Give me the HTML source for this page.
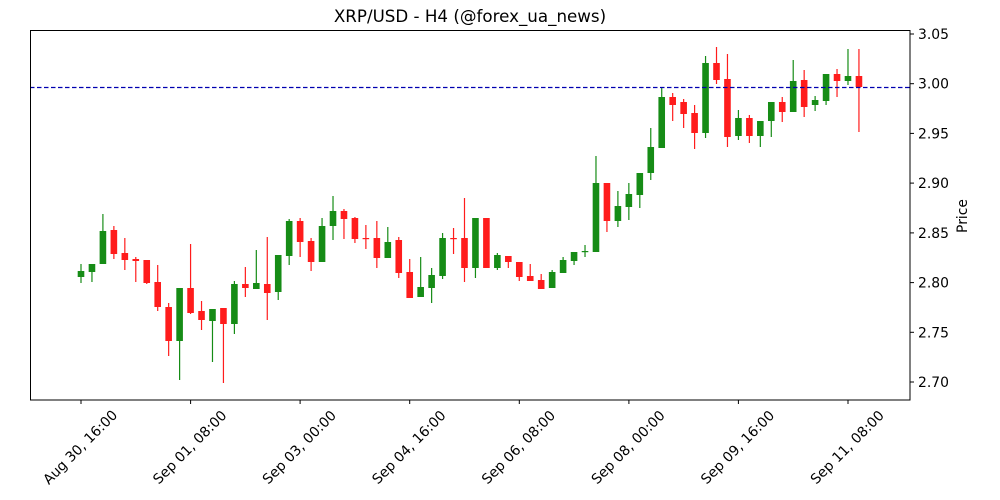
<!DOCTYPE html>
<html><head><meta charset="utf-8"><style>
html,body{margin:0;padding:0;background:#fff;}
svg{display:block;font-family:"DejaVu Sans","Liberation Sans",sans-serif;}
</style></head><body>
<svg id="s" width="1000" height="500" viewBox="0 0 1000 500" xmlns="http://www.w3.org/2000/svg">
<rect width="1000" height="500" fill="#fff"/>
<text x="470" y="22" font-size="16.7" text-anchor="middle" fill="#000">XRP/USD - H4 (@forex_ua_news)</text>
<g id="c"></g>
<line x1="30" y1="87.5" x2="910" y2="87.5" stroke="#0000b0" stroke-width="1.2" stroke-dasharray="4.5,2.5"/>
<rect x="30.5" y="30.5" width="879.5" height="369.5" fill="none" stroke="#000" stroke-width="1"/>
<g font-size="13.9" fill="#000" stroke="none">
<g stroke="#000"><line x1="910" y1="34" x2="914" y2="34"/><line x1="910" y1="83.7" x2="914" y2="83.7"/><line x1="910" y1="133.4" x2="914" y2="133.4"/><line x1="910" y1="183.1" x2="914" y2="183.1"/><line x1="910" y1="232.9" x2="914" y2="232.9"/><line x1="910" y1="282.6" x2="914" y2="282.6"/><line x1="910" y1="332.3" x2="914" y2="332.3"/><line x1="910" y1="382" x2="914" y2="382"/></g>
<text x="918" y="39">3.05</text><text x="918" y="88.7">3.00</text><text x="918" y="138.4">2.95</text><text x="918" y="188.1">2.90</text><text x="918" y="237.9">2.85</text><text x="918" y="287.6">2.80</text><text x="918" y="337.3">2.75</text><text x="918" y="387">2.70</text>
<text transform="translate(967,216) rotate(-90)" text-anchor="middle">Price</text>
<g stroke="#000"><line x1="81" y1="400" x2="81" y2="404"/><line x1="190.6" y1="400" x2="190.6" y2="404"/><line x1="300.1" y1="400" x2="300.1" y2="404"/><line x1="409.7" y1="400" x2="409.7" y2="404"/><line x1="519.3" y1="400" x2="519.3" y2="404"/><line x1="628.9" y1="400" x2="628.9" y2="404"/><line x1="738.4" y1="400" x2="738.4" y2="404"/><line x1="848" y1="400" x2="848" y2="404"/></g>
<text transform="translate(80,447) rotate(-45)" text-anchor="middle" dy="5">Aug 30, 16:00</text>
<text transform="translate(189.6,447) rotate(-45)" text-anchor="middle" dy="5">Sep 01, 08:00</text>
<text transform="translate(299.1,447) rotate(-45)" text-anchor="middle" dy="5">Sep 03, 00:00</text>
<text transform="translate(408.7,447) rotate(-45)" text-anchor="middle" dy="5">Sep 04, 16:00</text>
<text transform="translate(518.3,447) rotate(-45)" text-anchor="middle" dy="5">Sep 06, 08:00</text>
<text transform="translate(627.9,447) rotate(-45)" text-anchor="middle" dy="5">Sep 08, 00:00</text>
<text transform="translate(737.4,447) rotate(-45)" text-anchor="middle" dy="5">Sep 09, 16:00</text>
<text transform="translate(847,447) rotate(-45)" text-anchor="middle" dy="5">Sep 11, 08:00</text>
</g>
</svg>
<script>
var d=[
[271,277,264,283,'g'],[264,272,264,282,'g'],[231,264,214,264,'g'],[230,254,226,259,'r'],[253,260,238,270,'r'],
[259,261,257,282,'r'],[260,283,260,284,'r'],[282,307,265,311,'r'],[307,341,303,356,'r'],[288,341,288,380,'g'],
[288,313,244,314,'r'],[311,320,301,330,'r'],[309,321,309,362,'g'],[308,324,308,383,'r'],[284,324,281,334,'g'],
[284,288,267,297,'r'],[283,289,250,289,'g'],[284,293,237,320,'r'],[255,292,255,300,'g'],[221,256,219,265,'g'],
[221,242,218,257,'r'],[241,262,238,271,'r'],[226,262,218,262,'g'],[211,226,196,240,'g'],[211,219,209,239,'r'],
[218,239,217,243,'r'],[238,239,225,249,'r'],[238,258,221,268,'r'],[242,258,227,258,'g'],[240,273,237,278,'r'],
[272,298,259,298,'r'],[287,297,257,297,'g'],[275,288,268,303,'g'],[238,276,233,279,'g'],[238,239,228,254,'r'],
[238,268,198,282,'r'],[218,268,218,278,'g'],[218,268,218,268,'r'],[255,268,253,270,'g'],[256,262,256,268,'r'],
[262,277,262,281,'r'],[276,281,264,281,'r'],[280,289,274,289,'r'],[272,288,270,288,'g'],[260,273,257,273,'g'],
[252,261,252,265,'g'],[251,252,245,257,'g'],[183,252,156,252,'g'],[183,221,183,232,'r'],[206,221,191,227,'g'],
[194,207,183,220,'g'],[173,195,173,208,'g'],[147,173,128,180,'g'],[97,148,88,148,'g'],[97,105,93,121,'r'],
[102,114,99,128,'r'],[113,133,105,149,'r'],[63,133,56,138,'g'],[63,80,47,84,'r'],[79,137,54,147,'r'],
[118,136,110,140,'g'],[118,136,115,143,'r'],[121,136,121,147,'g'],[102,121,102,137,'g'],[102,112,97,122,'r'],
[81,112,60,112,'g'],[80,107,70,117,'r'],[100,105,96,111,'g'],[74,101,74,105,'g'],[74,81,69,97,'r'],
[76,81,49,85,'g'],[76,87,49,132,'r']];
var g=document.getElementById('c'),h='';
for(var i=0;i<d.length;i++){var x=81+i*10.957,c=d[i],col=c[4]=='g'?'#168c16':'#ff1c1c';
h+='<line x1="'+x+'" y1="'+c[2]+'" x2="'+x+'" y2="'+c[3]+'" stroke="'+col+'" stroke-width="1.2"/>';
var hh=Math.max(c[1]-c[0],1.2);
h+='<rect x="'+(x-3.3)+'" y="'+c[0]+'" width="6.6" height="'+hh+'" fill="'+col+'"/>';}
g.innerHTML=h;
</script>
</body></html>
